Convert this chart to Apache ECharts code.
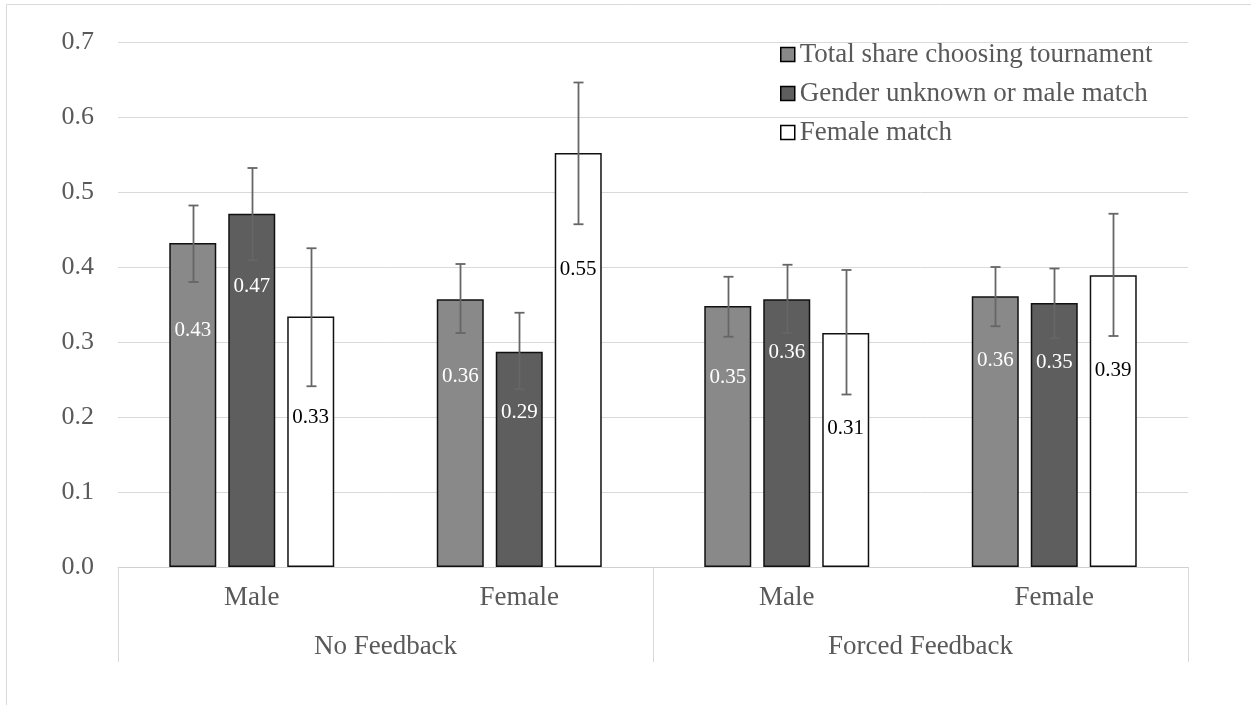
<!DOCTYPE html>
<html>
<head>
<meta charset="utf-8">
<script src="https://cdn.jsdelivr.net/npm/echarts@6/dist/echarts.min.js"></script>
<style>
  html, body { margin: 0; padding: 0; background: #fff; }
  #chart { width: 1251px; height: 705px; }
</style>
</head>
<body>
<div id="chart"></div>
<script>
// ---------- data ----------
const categories = ['Male', 'Female', 'Male', 'Female'];
const groups = ['No Feedback', 'Forced Feedback'];
const seriesNames = ['Total share choosing tournament', 'Gender unknown or male match', 'Female match'];

const totalShare   = [0.432, 0.357, 0.348, 0.361];
const genderMale   = [0.471, 0.287, 0.357, 0.352];
const femaleMatch  = [0.334, 0.552, 0.312, 0.389];

const totalLow   = [0.380, 0.312, 0.307, 0.321];
const totalHigh  = [0.482, 0.404, 0.387, 0.400];
const genderLow  = [0.409, 0.237, 0.312, 0.305];
const genderHigh = [0.532, 0.339, 0.403, 0.398];
const femaleLow  = [0.241, 0.457, 0.230, 0.308];
const femaleHigh = [0.425, 0.646, 0.396, 0.471];

const yTicks = [0, 0.7, 0.1]; // min, max, interval

// ---------- layout / style ----------
const FONT = '"Liberation Serif", "Times New Roman", serif';
const TXT = '#595959';
const GRID = '#d9d9d9';
const BAR_W = 47, BAR_GAP = 12;
const colors = ['#898989', '#5e5e5e', '#ffffff'];
const labelColors = ['#ffffff', '#ffffff', '#000000'];
// label centre distance (px) below bar top, as placed in the original
const labelDrop = [[87, 77, 71, 64], [73, 61, 53, 59], [101, 116, 95, 95]];

const values = [totalShare, genderMale, femaleMatch];
const lows = [totalLow, genderLow, femaleLow];
const highs = [totalHigh, genderHigh, femaleHigh];

const barSeries = values.map((vals, s) => ({
  type: 'bar',
  name: seriesNames[s],
  xAxisIndex: 0,
  barWidth: BAR_W,
  barGap: (BAR_GAP / BAR_W * 100).toFixed(1) + '%',
  itemStyle: { color: colors[s], borderColor: '#111', borderWidth: 1.5 },
  z: 2,
  data: vals.map((v, i) => ({
    value: v,
    label: {
      show: true,
      position: ['50%', labelDrop[s][i]],
      align: 'center',
      verticalAlign: 'middle',
      formatter: (p) => p.value.toFixed(2),
      color: labelColors[s],
      fontFamily: FONT,
      fontSize: 21
    }
  }))
}));

const errSeries = values.map((vals, s) => {
  const offset = (s - 1) * (BAR_W + BAR_GAP);
  return {
    type: 'custom',
    name: 'err' + s,
    xAxisIndex: 0,
    silent: true,
    z: 5,
    encode: { x: 0, y: [1, 2] },
    data: lows[s].map((l, i) => [i, l, highs[s][i]]),
    renderItem: (params, api) => {
      const c = api.coord([api.value(0), 0]);
      const x = Math.round(c[0] + offset) + 0.5;
      const yl = api.coord([api.value(0), api.value(1)])[1];
      const yh = api.coord([api.value(0), api.value(2)])[1];
      const st = { stroke: '#666666', lineWidth: 1.8 };
      return {
        type: 'group',
        children: [
          { type: 'line', shape: { x1: x, y1: yl, x2: x, y2: yh }, style: st },
          { type: 'line', shape: { x1: x - 5, y1: yh, x2: x + 5, y2: yh }, style: st },
          { type: 'line', shape: { x1: x - 5, y1: yl, x2: x + 5, y2: yl }, style: st }
        ]
      };
    }
  };
});

const option = {
  animation: false,
  backgroundColor: '#ffffff',
  textStyle: { fontFamily: FONT },
  graphic: [{
    type: 'rect',
    shape: { x: 6.5, y: 4.5, width: 1400, height: 900 },
    style: { fill: 'none', stroke: GRID, lineWidth: 1 },
    silent: true
  }],
  grid: { left: 118, right: 63, top: 42, bottom: 138, containLabel: false },
  legend: {
    data: seriesNames,
    orient: 'vertical',
    left: 780,
    top: 41,
    padding: 0,
    itemGap: 12,
    itemWidth: 14,
    itemHeight: 14,
    icon: 'rect',
    selectedMode: false,
    itemStyle: { borderColor: '#000', borderWidth: 1.5 },
    textStyle: { color: TXT, fontFamily: FONT, fontSize: 27, lineHeight: 27 }
  },
  xAxis: [{
    type: 'category',
    data: categories,
    position: 'bottom',
    axisLine: { show: true, lineStyle: { color: '#d0d0d0', width: 1 } },
    axisTick: { show: false },
    axisLabel: { color: TXT, fontFamily: FONT, fontSize: 27, margin: 17, interval: 0 }
  }, {
    type: 'category',
    data: groups,
    position: 'bottom',
    axisLine: { show: false },
    axisTick: { show: true, length: 95, interval: 0, lineStyle: { color: GRID, width: 1 } },
    axisLabel: { color: TXT, fontFamily: FONT, fontSize: 27, margin: 66, interval: 0 },
    splitLine: { show: false }
  }],
  yAxis: {
    type: 'value',
    min: yTicks[0],
    max: yTicks[1],
    interval: yTicks[2],
    axisLine: { show: false },
    axisTick: { show: false },
    splitLine: { lineStyle: { color: GRID, width: 1 } },
    axisLabel: {
      color: TXT, fontFamily: FONT, fontSize: 26, margin: 24,
      formatter: (v) => v.toFixed(1)
    }
  },
  series: [...barSeries, ...errSeries]
};

const chart = echarts.init(document.getElementById('chart'), null, { renderer: 'canvas' });
chart.setOption(option);
</script>
</body>
</html>
